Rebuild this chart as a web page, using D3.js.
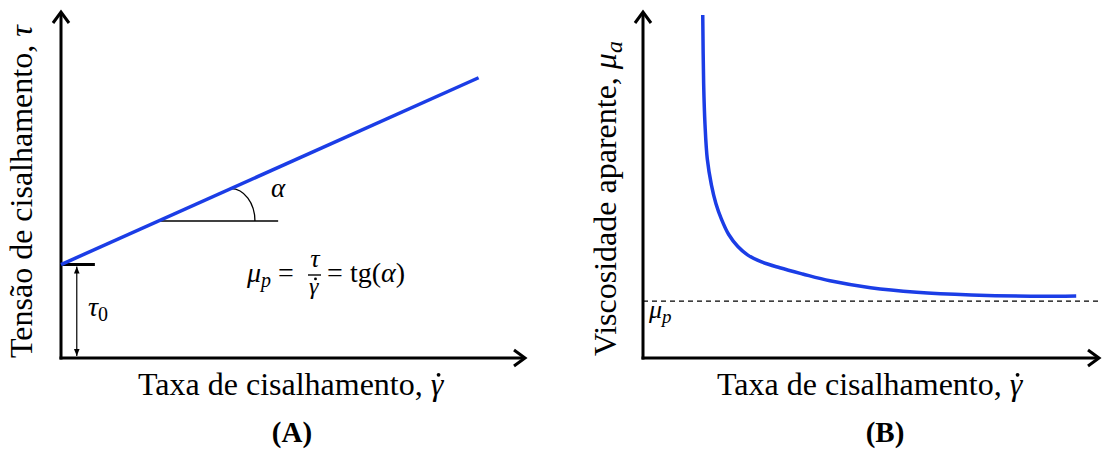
<!DOCTYPE html>
<html>
<head>
<meta charset="utf-8">
<script src="https://cdn.jsdelivr.net/npm/d3@7"></script>
<style>
  html, body { margin: 0; padding: 0; background: #fff; }
  svg { display: block; }
  text { font-family: "Liberation Serif", "Times New Roman", serif; fill: #000; white-space: pre; }
  .math { font-family: "Liberation Serif", serif; font-style: italic; }
</style>
</head>
<body>
<svg id="chart" width="1102" height="450"></svg>
<script>
// ---------- data ----------
// Panel A: Bingham plastic, shear stress vs shear rate
const rateA = [0, 90];
const tauA = [27, 81];
const tau0 = 27;
// angle annotation (data units)
const angleBaseY = 39.6;
const angleBaseX = [20.8, 46.8];
const arcCenterX = 36.6;
const arcEndX = 41.8;
const tau0ArrowX = 3.4;
const tau0TickX = [0, 7.3];

// Panel B: apparent viscosity vs shear rate
const rateB = [13.1, 13.3, 13.6, 14.1, 15.0, 16.0, 17.2, 18.8, 20.8, 23.0, 26.0, 30.0, 35.0, 41.0, 49.9, 60.0, 72.0, 85.0, 95.0];
const viscB = [100, 80.0, 68.0, 58.0, 50.5, 45.0, 40.5, 36.0, 32.5, 30.0, 28.0, 26.3, 24.5, 22.5, 20.5, 19.2, 18.4, 18.0, 18.1];
const muP = 16.6;

// labels
const xLabel = "Taxa de cisalhamento, ";
const yLabelA = "Tensão de cisalhamento, ";
const yLabelB = "Viscosidade aparente, ";
const panelTitles = ["(A)", "(B)"];

const blue = "#1b3de6";
const svg = d3.select("#chart");

function chevronUp(g, x, y) {
  g.append("path").attr("d", `M${x-8},${y+11} L${x},${y} L${x+8},${y+11}`)
    .attr("fill", "none").attr("stroke", "#000").attr("stroke-width", 3).attr("stroke-linejoin", "miter");
}
function chevronRight(g, x, y) {
  g.append("path").attr("d", `M${x-11},${y-8} L${x},${y} L${x-11},${y+8}`)
    .attr("fill", "none").attr("stroke", "#000").attr("stroke-width", 3).attr("stroke-linejoin", "miter");
}
function dotAbove(sel, x, y, size) {
  sel.append("circle").attr("cx", x).attr("cy", y - size * 0.63).attr("r", size * 0.06).attr("fill", "#000");
}
function gammaDot(sel, x, y, size) {
  sel.append("text").attr("class", "math").attr("x", x).attr("y", y).attr("font-size", size).text("γ");
  dotAbove(sel, x + size * 0.27, y, size);
}
function axisLabel(g, x, y, label) {
  const t = g.append("text").attr("x", x).attr("y", y).attr("font-size", 32);
  t.append("tspan").text(label);
  t.append("tspan").attr("font-style", "italic").text("γ");
  const n = t.node();
  const ext = n.getExtentOfChar(label.length);
  dotAbove(g, ext.x + ext.width * 0.62, y, 32);
}

// ---------- Panel A ----------
const xA = d3.scaleLinear().domain([0, 100]).range([61, 525]);
const yA = d3.scaleLinear().domain([0, 100]).range([358, 12]);
const gA = svg.append("g");

// axes
gA.append("line").attr("x1", xA(0)).attr("x2", xA(0)).attr("y1", yA(0) + 1.5).attr("y2", yA(100) + 1)
  .attr("stroke", "#000").attr("stroke-width", 3);
gA.append("line").attr("x1", xA(0) - 1.5).attr("x2", xA(100) - 1).attr("y1", yA(0)).attr("y2", yA(0))
  .attr("stroke", "#000").attr("stroke-width", 3);
chevronUp(gA, xA(0), yA(100));
chevronRight(gA, xA(100), yA(0));

// tau0 tick
gA.append("line").attr("x1", xA(tau0TickX[0])).attr("x2", xA(tau0TickX[1]))
  .attr("y1", yA(tau0)).attr("y2", yA(tau0)).attr("stroke", "#000").attr("stroke-width", 3);

// double arrow
const defs = svg.append("defs");
defs.append("marker").attr("id", "ah").attr("viewBox", "0 0 10 10").attr("refX", 10).attr("refY", 5)
  .attr("markerWidth", 7).attr("markerHeight", 7).attr("orient", "auto-start-reverse")
  .attr("markerUnits", "userSpaceOnUse")
  .append("path").attr("d", "M0,1 L10,5 L0,9 Z").attr("fill", "#000");
gA.append("line").attr("x1", xA(tau0ArrowX)).attr("x2", xA(tau0ArrowX))
  .attr("y1", yA(tau0) + 2).attr("y2", yA(0) - 2)
  .attr("stroke", "#000").attr("stroke-width", 1.2)
  .attr("marker-start", "url(#ah)").attr("marker-end", "url(#ah)");

// angle base line
gA.append("line").attr("x1", xA(angleBaseX[0])).attr("x2", xA(angleBaseX[1]))
  .attr("y1", yA(angleBaseY)).attr("y2", yA(angleBaseY)).attr("stroke", "#000").attr("stroke-width", 1.3);
// arc
const slope = (tauA[1] - tauA[0]) / (rateA[1] - rateA[0]);
const arcTopY = tauA[0] + slope * arcCenterX;
const rx = xA(arcEndX) - xA(arcCenterX);
const ry = yA(angleBaseY) - yA(arcTopY);
gA.append("path")
  .attr("d", `M${xA(arcCenterX)},${yA(arcTopY)} A${rx},${ry} 0 0 1 ${xA(arcEndX)},${yA(angleBaseY)}`)
  .attr("fill", "none").attr("stroke", "#000").attr("stroke-width", 1.3);

// line
const lineA = d3.line().x((d, i) => xA(rateA[i])).y(d => yA(d));
gA.append("path").datum(tauA).attr("d", lineA)
  .attr("fill", "none").attr("stroke", blue).attr("stroke-width", 3.5);

// alpha label
gA.append("text").attr("class", "math").attr("x", 271).attr("y", 197).attr("font-size", 27).text("α");

// tau0 label
const t0 = gA.append("text").attr("class", "math").attr("x", 88).attr("y", 316).attr("font-size", 28);
t0.append("tspan").text("τ");
t0.append("tspan").attr("dy", 5).attr("font-size", 20).attr("font-style", "normal").text("0");

// formula
const fy = 282;
const f1 = gA.append("text").attr("class", "math").attr("x", 247).attr("y", fy).attr("font-size", 28);
f1.append("tspan").text("μ");
f1.append("tspan").attr("dy", 5).attr("font-size", 20).text("p");
gA.append("text").attr("x", 286).attr("y", fy).attr("font-size", 28).attr("text-anchor", "middle").text("=");
gA.append("text").attr("class", "math").attr("x", 315).attr("y", 267).attr("font-size", 26).attr("text-anchor", "middle").text("τ");
gA.append("line").attr("x1", 308).attr("x2", 321).attr("y1", 275).attr("y2", 275).attr("stroke", "#000").attr("stroke-width", 1.4);
gammaDot(gA, 309, 294, 24);
gA.append("text").attr("x", 335).attr("y", fy).attr("font-size", 28).attr("text-anchor", "middle").text("=");
const f2 = gA.append("text").attr("x", 350).attr("y", fy).attr("font-size", 28);
f2.append("tspan").text("tg(");
f2.append("tspan").attr("font-style", "italic").text("α");
f2.append("tspan").text(")");

// axis labels
axisLabel(gA, 138, 395, xLabel);

const yl = gA.append("text").attr("transform", "translate(32,358) rotate(-90)").attr("font-size", 32);
yl.append("tspan").text(yLabelA);
yl.append("tspan").attr("font-style", "italic").text("τ");

gA.append("text").attr("x", 292).attr("y", 442).attr("font-size", 29).attr("font-weight", "bold")
  .attr("text-anchor", "middle").text(panelTitles[0]);

// ---------- Panel B ----------
const xB = d3.scaleLinear().domain([0, 100]).range([643, 1099]);
const yB = d3.scaleLinear().domain([0, 100]).range([358, 15]);
const gB = svg.append("g");

gB.append("line").attr("x1", xB(0)).attr("x2", xB(0)).attr("y1", yB(0) + 1.5).attr("y2", yB(100) - 2)
  .attr("stroke", "#000").attr("stroke-width", 3);
gB.append("line").attr("x1", xB(0) - 1.5).attr("x2", xB(100) - 1).attr("y1", yB(0)).attr("y2", yB(0))
  .attr("stroke", "#000").attr("stroke-width", 3);
chevronUp(gB, xB(0), yB(100) - 3);
chevronRight(gB, xB(100), yB(0));

// mu_p dashed
gB.append("line").attr("x1", xB(0)).attr("x2", xB(100)).attr("y1", yB(muP)).attr("y2", yB(muP))
  .attr("stroke", "#000").attr("stroke-width", 1.2).attr("stroke-dasharray", "5,4");

const lineB = d3.line().x((d, i) => xB(rateB[i])).y(d => yB(d)).curve(d3.curveCatmullRom.alpha(0.5));
gB.append("path").datum(viscB).attr("d", lineB)
  .attr("fill", "none").attr("stroke", blue).attr("stroke-width", 3.5);

const mp = gB.append("text").attr("class", "math").attr("x", 649).attr("y", 318).attr("font-size", 26);
mp.append("tspan").text("μ");
mp.append("tspan").attr("dy", 5).attr("font-size", 19).text("p");

axisLabel(gB, 717, 395, xLabel);

const ylB = gB.append("text").attr("transform", "translate(616,356) rotate(-90)").attr("font-size", 32);
ylB.append("tspan").text(yLabelB);
ylB.append("tspan").attr("font-style", "italic").text("μ");
ylB.append("tspan").attr("font-style", "italic").attr("dy", 6).attr("font-size", 24).text("a");

gB.append("text").attr("x", 885).attr("y", 442).attr("font-size", 29).attr("font-weight", "bold")
  .attr("text-anchor", "middle").text(panelTitles[1]);
</script>
</body>
</html>
